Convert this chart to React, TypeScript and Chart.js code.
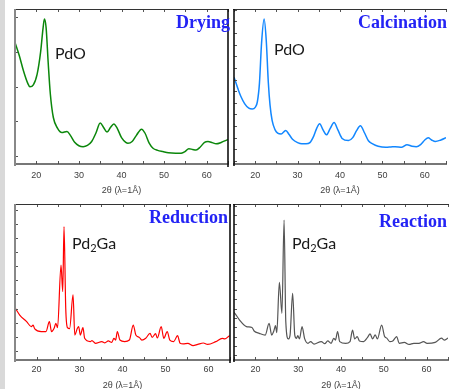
import React, { useEffect, useRef } from "react";
import { Chart, registerables } from "chart.js";
Chart.register(...registerables);

// ---- data (2θ in degrees, intensity in arbitrary units 0-100) ----
const xMin = 15;
const xMax = 65;
const xLabelValues = [20, 30, 40, 50, 60];
const axisTitle = "2θ (λ=1Å)";

const dryingTheta = [15.0, 16.0, 17.0, 18.0, 18.5, 19.3, 20.2, 21.0, 21.6, 21.9, 22.3, 22.8, 23.3, 24.0, 25.0, 26.0, 27.2, 28.0, 29.0, 30.0, 31.0, 32.0, 33.0, 34.0, 35.0, 35.8, 36.6, 37.4, 38.2, 39.0, 40.0, 41.0, 41.5, 42.5, 43.5, 44.7, 45.5, 46.5, 47.4, 48.5, 49.7, 51.0, 52.7, 54.0, 54.9, 55.8, 56.7, 57.5, 58.5, 59.5, 60.3, 61.3, 62.2, 63.5, 64.8, 65.0];
const dryingIntensity = [78.4, 70, 60, 52, 49.8, 51, 58, 72, 88, 93.5, 88, 65, 45, 30, 23, 20.3, 21, 18.5, 14, 11.8, 11.2, 12, 14.5, 20, 26.4, 23.5, 20.6, 23.5, 25.8, 23, 17, 14, 13.4, 14.5, 18.5, 22.5, 20, 13.5, 10.2, 8.8, 8, 7.2, 6.9, 7, 8, 9.9, 9.4, 9, 11, 14, 14.5, 13.8, 13, 14, 15.6, 15.8];

const calcinationTheta = [15.0, 15.2, 16.0, 16.6, 17.5, 18.5, 19.3, 20.0, 20.5, 21.0, 21.5, 22.1, 22.6, 23.1, 23.5, 24.0, 24.7, 25.3, 26.1, 27.2, 28.0, 28.8, 30.0, 31.0, 32.0, 32.9, 33.8, 34.5, 35.2, 36.0, 36.8, 37.7, 38.6, 39.5, 40.5, 42.0, 43.0, 43.9, 44.8, 45.8, 46.7, 47.7, 49.0, 50.8, 52.0, 53.0, 54.6, 55.8, 57.0, 58.0, 59.0, 60.0, 60.8, 61.6, 62.5, 63.8, 65.0];
const calcinationIntensity = [56, 54.5, 48, 43.7, 39, 36, 35.5, 36.5, 40, 52, 78, 93.5, 80, 52.4, 38, 28, 22, 19.9, 19.3, 21.6, 19, 16, 13.8, 13, 13, 13.8, 18, 23, 26, 22, 18.8, 23, 26.8, 22, 16.5, 15.1, 17, 21.5, 24.7, 20, 15, 13, 11.5, 10.8, 11, 11.2, 10.8, 12.5, 11.5, 11.2, 12.5, 15.5, 16.9, 15.5, 14.5, 15.5, 16.9];

const reductionTheta = [15.0, 16.1, 17.7, 18.8, 19.2, 19.6, 21.1, 22.2, 23.0, 23.5, 24.1, 24.5, 24.9, 25.7, 26.1, 26.4, 26.8, 27.2, 27.7, 28.5, 28.9, 29.5, 29.8, 30.2, 30.8, 31.2, 32.5, 32.9, 33.7, 35.2, 35.9, 36.7, 37.5, 38.0, 38.4, 38.8, 39.4, 40.5, 41.6, 42.5, 43.1, 43.9, 44.5, 45.4, 46.4, 46.9, 47.7, 48.1, 49.0, 49.6, 50.4, 51.0, 51.9, 52.8, 53.4, 54.1, 55.2, 56.4, 57.5, 58.8, 59.8, 61.7, 63.2, 63.8, 64.8, 65.0];
const reductionIntensity = [33.5, 28.8, 24.6, 21.4, 22.4, 19.9, 18.2, 18.2, 24.6, 18.2, 20.3, 23.5, 20.7, 60.9, 43.8, 85.5, 33.1, 20.7, 20.1, 41.7, 16, 20.3, 21.4, 16, 20.7, 13.9, 11.8, 12.4, 10.7, 11.8, 11, 12.2, 11.3, 13.9, 12.8, 18.2, 12.8, 11.8, 12.8, 22.4, 16, 14.5, 12.8, 13.9, 17.1, 14.5, 16.9, 14.1, 21.4, 13.9, 18.2, 12.8, 11.8, 15.6, 10.7, 10.3, 10.7, 9.2, 10, 10.9, 10, 11.8, 13.9, 13.5, 15.4, 15.6];

const reactionTheta = [15.0, 15.2, 16.3, 17.9, 19.2, 19.7, 20.9, 22.3, 23.2, 23.8, 24.3, 24.7, 25.0, 25.6, 26.2, 26.7, 27.1, 27.7, 28.1, 28.7, 29.2, 29.6, 29.9, 30.3, 30.9, 31.5, 32.3, 32.9, 33.7, 35.4, 36.2, 36.9, 37.7, 38.3, 38.7, 39.2, 39.7, 41.1, 42.1, 42.7, 43.2, 43.8, 44.3, 45.3, 46.2, 46.8, 47.4, 48.0, 48.5, 49.5, 50.2, 50.7, 51.4, 52.1, 53.0, 53.6, 54.8, 55.9, 57.0, 58.2, 59.3, 60.1, 62.0, 63.5, 64.1, 65.0];
const reactionIntensity = [30.5, 29.9, 25.6, 21.4, 20.8, 18.6, 17.1, 16, 23.5, 16, 18.6, 22, 17.5, 49.8, 29.9, 89.7, 24.6, 13.5, 16, 42.7, 16, 13.9, 15.6, 13.5, 21.4, 13.7, 10.7, 11.8, 10.2, 11.8, 10.5, 12.2, 10.7, 13.9, 12.8, 18.2, 11.8, 10.7, 11.8, 19.2, 13.5, 15, 12.2, 11.8, 14.5, 16.7, 13.5, 16.2, 13.5, 22.4, 15, 14, 11.8, 12.2, 15, 10.7, 11.3, 10, 10.7, 10.7, 11.8, 10.7, 11.3, 14, 12.8, 14];

const topLeftYTicks = [5.2, 27.6, 50, 72.4, 94.8];
const topRightYTicks = [2, 9.5, 17, 24.5, 32, 39.5, 47, 54.5, 62, 69.5, 77, 84.5, 92, 99.5];
const bottomLeftYTicks = [6, 15, 24, 33, 42, 51, 60, 69, 78, 87, 96];
const bottomRightYTicks = [3, 9, 15, 21, 27, 33, 39, 45, 51, 57, 63, 69, 75, 81, 87, 93, 99];

const framePlugin = {
  id: "frame",
  afterDatasetsDraw(chart: any, _args: any, opts: any) {
    const { ctx, chartArea, scales } = chart;
    const { left, right, top, bottom } = chartArea;
    const x = scales.x;
    const y = scales.y;
    ctx.save();
    const line = (x1: number, y1: number, x2: number, y2: number) => {
      ctx.beginPath();
      ctx.moveTo(x1, y1);
      ctx.lineTo(x2, y2);
      ctx.stroke();
    };
    // inward ticks
    ctx.strokeStyle = "#555";
    ctx.lineWidth = 1;
    x.ticks.forEach((t: any) => {
      const px = Math.round(x.getPixelForValue(t.value)) + 0.5;
      line(px, bottom, px, bottom - 3);
      line(px, top, px, top + 3);
    });
    (opts.yTicks || []).forEach((v: number) => {
      const py = Math.round(y.getPixelForValue(v)) + 0.5;
      line(left, py, left + 3, py);
    });
    // top border
    ctx.strokeStyle = "#333";
    ctx.lineWidth = 1;
    line(left - 1, top + 0.5, right + 1, top + 0.5);
    // bottom axis
    ctx.strokeStyle = "#4a4a4a";
    ctx.lineWidth = 1.6;
    line(left - 1, bottom, right + 1, bottom);
    // left axis
    ctx.strokeStyle = opts.leftColor || "#888";
    ctx.lineWidth = opts.leftWidth || 2;
    line(left, top, left, bottom + 2);
    if (opts.drawRight) {
      ctx.strokeStyle = "#111";
      ctx.lineWidth = 1.6;
      line(right, top, right, bottom + 3);
    }
    ctx.restore();
  },
};

type PanelProps = {
  left: number;
  top: number;
  width: number;
  height: number;
  pad: { left: number; right: number; top: number };
  axisHeight: number;
  theta: number[];
  intensity: number[];
  color: string;
  lineWidth: number;
  yTicks: number[];
  drawRight: boolean;
  leftColor: string;
  leftWidth: number;
  titlePad: number;
  tickPad: number;
};

function Panel(p: PanelProps) {
  const ref = useRef<HTMLCanvasElement | null>(null);
  useEffect(() => {
    if (!ref.current) return;
    const chart = new Chart(ref.current, {
      type: "line",
      data: {
        datasets: [
          {
            data: p.theta.map((t, i) => ({ x: t, y: p.intensity[i] })),
            borderColor: p.color,
            borderWidth: p.lineWidth,
            pointRadius: 0,
            fill: false,
            cubicInterpolationMode: "monotone",
          },
        ],
      },
      options: {
        animation: false,
        responsive: false,
        maintainAspectRatio: false,
        layout: { padding: { left: p.pad.left, right: p.pad.right, top: p.pad.top, bottom: 0 } },
        plugins: {
          legend: { display: false },
          tooltip: { enabled: false },
          frame: { yTicks: p.yTicks, drawRight: p.drawRight, leftColor: p.leftColor, leftWidth: p.leftWidth },
        } as any,
        scales: {
          x: {
            type: "linear",
            min: xMin,
            max: xMax,
            grid: { display: false, drawTicks: false },
            border: { display: false },
            afterFit: (scale: any) => {
              scale.height = p.axisHeight;
            },
            ticks: {
              stepSize: 5,
              autoSkip: false,
              maxRotation: 0,
              padding: p.tickPad,
              color: "#404040",
              font: { family: "Liberation Sans", size: 9 },
              callback: (v: any) => (xLabelValues.includes(Number(v)) ? String(v) : ""),
            },
            title: {
              display: true,
              text: axisTitle,
              color: "#404040",
              font: { family: "Liberation Sans", size: 9 },
              padding: { top: 0, bottom: p.titlePad },
            },
          },
          y: {
            type: "linear",
            min: 0,
            max: 100,
            display: false,
          },
        },
      },
      plugins: [framePlugin],
    } as any);
    return () => chart.destroy();
  }, []);
  return (
    <canvas
      ref={ref}
      width={p.width}
      height={p.height}
      style={{ position: "absolute", left: p.left, top: p.top, width: p.width, height: p.height }}
    />
  );
}

const titleStyle: React.CSSProperties = {
  position: "absolute",
  fontFamily: "'Liberation Serif', serif",
  fontWeight: "bold",
  fontSize: 18,
  lineHeight: "18px",
  color: "#2323f5",
  whiteSpace: "nowrap",
};

const noteStyle: React.CSSProperties = {
  position: "absolute",
  fontFamily: "Lato, 'Open Sans', sans-serif",
  fontSize: 16,
  lineHeight: "16px",
  color: "#1a1a1a",
  whiteSpace: "nowrap",
};

export default function App() {
  return (
    <div
      style={{
        position: "fixed",
        left: 0,
        top: 0,
        width: 452,
        height: 389,
        background: "#fff",
        overflow: "hidden",
      }}
    >
      <div style={{ position: "absolute", left: 0, top: 0, width: 5, height: 389, background: "#d9d9d9" }} />
      <Panel
        left={5} top={0} width={229} height={197}
        pad={{ left: 10, right: 1, top: 9 }} axisHeight={33}
        theta={dryingTheta} intensity={dryingIntensity}
        color="#0b870b" lineWidth={1.5} yTicks={topLeftYTicks}
        drawRight={true} leftColor="#888" leftWidth={2} titlePad={1} tickPad={6}
      />
      <Panel
        left={228} top={0} width={224} height={197}
        pad={{ left: 5, right: 0, top: 9 }} axisHeight={33}
        theta={calcinationTheta} intensity={calcinationIntensity}
        color="#1287ff" lineWidth={1.5} yTicks={topRightYTicks}
        drawRight={false} leftColor="#111" leftWidth={1.6} titlePad={1} tickPad={6}
      />
      <Panel
        left={5} top={194} width={229} height={200}
        pad={{ left: 10, right: 1, top: 10 }} axisHeight={34}
        theta={reductionTheta} intensity={reductionIntensity}
        color="#ff0000" lineWidth={1.2} yTicks={bottomLeftYTicks}
        drawRight={true} leftColor="#888" leftWidth={2} titlePad={3} tickPad={4}
      />
      <Panel
        left={229} top={194} width={223} height={200}
        pad={{ left: 5, right: 0, top: 10 }} axisHeight={34}
        theta={reactionTheta} intensity={reactionIntensity}
        color="#555555" lineWidth={1.2} yTicks={bottomRightYTicks}
        drawRight={false} leftColor="#111" leftWidth={1.6} titlePad={3} tickPad={4}
      />
      <div style={{ ...titleStyle, right: 222, top: 13 }}>Drying</div>
      <div style={{ ...titleStyle, right: 5, top: 13 }}>Calcination</div>
      <div style={{ ...titleStyle, right: 224, top: 208 }}>Reduction</div>
      <div style={{ ...titleStyle, right: 5, top: 212 }}>Reaction</div>
      <div style={{ ...noteStyle, left: 55, top: 45 }}>PdO</div>
      <div style={{ ...noteStyle, left: 274, top: 41 }}>PdO</div>
      <div style={{ ...noteStyle, left: 72, top: 235 }}>
        Pd<sub style={{ fontSize: 11, verticalAlign: -3, lineHeight: 0 }}>2</sub>Ga
      </div>
      <div style={{ ...noteStyle, left: 292, top: 235 }}>
        Pd<sub style={{ fontSize: 11, verticalAlign: -3, lineHeight: 0 }}>2</sub>Ga
      </div>
    </div>
  );
}
